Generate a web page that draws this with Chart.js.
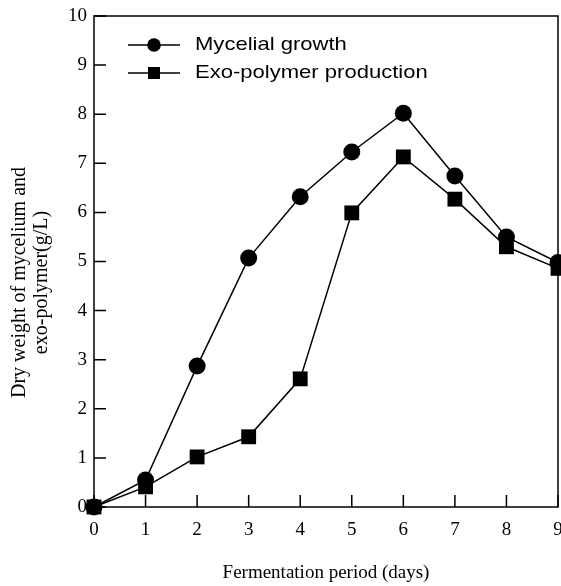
<!DOCTYPE html>
<html>
<head>
<meta charset="utf-8">
<script src="https://cdn.jsdelivr.net/npm/chart.js@4"></script>
<style>
  html, body { margin: 0; padding: 0; background: #fff; }
  #wrap { width: 561px; height: 586px; }
</style>
</head>
<body>
<div id="wrap"><canvas id="growth" width="561" height="586"></canvas></div>
<script>
// Values
const days = [0, 1, 2, 3, 4, 5, 6, 7, 8, 9];
const mycelial = [0, 0.55, 2.87, 5.07, 6.32, 7.23, 8.02, 6.74, 5.5, 4.98];
const exoPolymer = [0, 0.41, 1.02, 1.43, 2.61, 5.99, 7.13, 6.27, 5.3, 4.86];
const seriesNames = ['Mycelial growth', 'Exo-polymer production'];
const yTitle = ['Dry weight of mycelium and', 'exo-polymer(g/L)'];
const xTitle = 'Fermentation period (days)';

const serifFamily = '"Liberation Serif", "Times New Roman", serif';

function toPoints(ys) {
    return days.map((d, i) => ({ x: d, y: ys[i] }));
}

// box around the plot, inward tick marks, y title and the in-plot legend
const framePlugin = {
    id: 'frame',
    beforeDatasetsDraw(chart) {
        const { ctx, chartArea: a, scales: { x, y } } = chart;
        ctx.save();
        ctx.strokeStyle = '#000';
        ctx.lineWidth = 1.5;
        ctx.strokeRect(a.left, a.top, a.right - a.left, a.bottom - a.top);
        ctx.beginPath();
        x.ticks.forEach(t => {
            const px = x.getPixelForValue(t.value);
            ctx.moveTo(px, a.bottom);
            ctx.lineTo(px, a.bottom - 12);
        });
        y.ticks.forEach(t => {
            const py = y.getPixelForValue(t.value);
            ctx.moveTo(a.left, py);
            ctx.lineTo(a.left + 12, py);
        });
        ctx.stroke();

        // y axis title, two rotated lines, sitting a bit below the plot middle
        ctx.fillStyle = '#000';
        ctx.font = '20px ' + serifFamily;
        ctx.textAlign = 'center';
        ctx.textBaseline = 'middle';
        ctx.translate(20, (a.top + a.bottom) / 2 + 21);
        ctx.rotate(-Math.PI / 2);
        yTitle.forEach((line, i) => ctx.fillText(line, 0, i * 22));
        ctx.restore();
    },
    afterDraw(chart) {
        const { ctx, chartArea: a } = chart;
        ctx.save();
        chart.data.datasets.forEach((ds, i) => {
            const cy = a.top + 29 + i * 28;
            const x0 = a.left + 34;
            ctx.strokeStyle = '#000';
            ctx.lineWidth = 1.5;
            ctx.beginPath();
            ctx.moveTo(x0, cy);
            ctx.lineTo(x0 + 52, cy);
            ctx.stroke();
            ctx.fillStyle = '#000';
            Chart.helpers.drawPoint(ctx, {
                pointStyle: ds.pointStyle,
                radius: ds.pointStyle === 'rect' ? 8.5 : 6.8,
                rotation: 0,
                borderWidth: 0
            }, x0 + 26, cy);
            ctx.translate(x0 + 67, cy);
            ctx.scale(1.16, 1);
            ctx.font = '19px "Liberation Sans", Arial, sans-serif';
            ctx.textBaseline = 'middle';
            ctx.fillText(ds.label, 0, 0);
            ctx.setTransform(1, 0, 0, 1, 0, 0);
        });
        ctx.restore();
    }
};

function initGrowthChart() {
    const ctx = document.getElementById('growth').getContext('2d');
    const serif = { family: serifFamily, size: 19 };
    new Chart(ctx, {
        type: 'line',
        data: {
            datasets: [{
                label: seriesNames[0],
                data: toPoints(mycelial),
                borderColor: '#000',
                backgroundColor: '#000',
                borderWidth: 1.5,
                pointStyle: 'circle',
                pointRadius: 8.5,
                pointBorderWidth: 0,
                clip: false
            }, {
                label: seriesNames[1],
                data: toPoints(exoPolymer),
                borderColor: '#000',
                backgroundColor: '#000',
                borderWidth: 1.5,
                pointStyle: 'rect',
                pointRadius: 10.5,
                pointBorderWidth: 0,
                clip: false
            }]
        },
        options: {
            responsive: false,
            animation: false,
            layout: { autoPadding: false, padding: { top: 16, right: 3, left: 0, bottom: 0 } },
            plugins: { legend: { display: false }, tooltip: { enabled: false } },
            scales: {
                x: {
                    type: 'linear',
                    min: 0,
                    max: 9,
                    ticks: { stepSize: 1, color: '#000', font: serif, padding: 12, maxRotation: 0 },
                    grid: { display: false, drawTicks: false },
                    border: { display: false },
                    title: {
                        display: true,
                        text: xTitle,
                        color: '#000',
                        font: { ...serif, lineHeight: 1.05 },
                        padding: { top: 0, bottom: 3 }
                    },
                    afterFit(scale) {
                        scale.height = 79;
                        scale.paddingLeft = 0;
                        scale.paddingRight = 0;
                    }
                },
                y: {
                    min: 0,
                    max: 10,
                    ticks: { stepSize: 1, color: '#000', font: serif, padding: 7 },
                    grid: { display: false, drawTicks: false },
                    border: { display: false },
                    afterFit(scale) {
                        scale.width = 94;
                        scale.paddingTop = 0;
                        scale.paddingBottom = 0;
                    }
                }
            }
        },
        plugins: [framePlugin]
    });
}

document.addEventListener('DOMContentLoaded', initGrowthChart);
</script>
</body>
</html>
